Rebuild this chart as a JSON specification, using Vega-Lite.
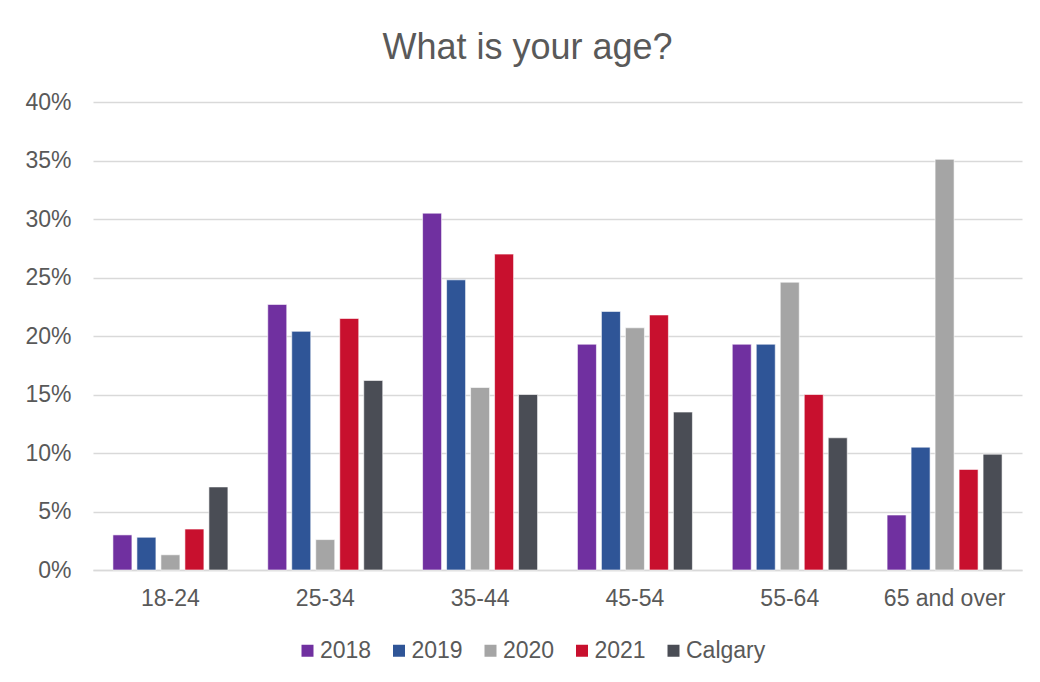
{
  "$schema": "https://vega.github.io/schema/vega-lite/v6.json",
  "width": 929,
  "height": 468,
  "autosize": {"type": "none"},
  "padding": {"left": 93, "top": 102, "right": 18, "bottom": 112},
  "background": "white",
  "title": {
    "text": "What is your age?",
    "font": "Liberation Sans",
    "fontSize": 36,
    "fontWeight": "normal",
    "color": "#595959",
    "anchor": "middle",
    "frame": "group",
    "dx": -30,
    "offset": 24
  },
  "data": {
    "values": [
      {"age": "18-24", "series": "2018", "share": 0.030},
      {"age": "18-24", "series": "2019", "share": 0.028},
      {"age": "18-24", "series": "2020", "share": 0.013},
      {"age": "18-24", "series": "2021", "share": 0.035},
      {"age": "18-24", "series": "Calgary", "share": 0.071},
      {"age": "25-34", "series": "2018", "share": 0.227},
      {"age": "25-34", "series": "2019", "share": 0.204},
      {"age": "25-34", "series": "2020", "share": 0.026},
      {"age": "25-34", "series": "2021", "share": 0.215},
      {"age": "25-34", "series": "Calgary", "share": 0.162},
      {"age": "35-44", "series": "2018", "share": 0.305},
      {"age": "35-44", "series": "2019", "share": 0.248},
      {"age": "35-44", "series": "2020", "share": 0.156},
      {"age": "35-44", "series": "2021", "share": 0.270},
      {"age": "35-44", "series": "Calgary", "share": 0.150},
      {"age": "45-54", "series": "2018", "share": 0.193},
      {"age": "45-54", "series": "2019", "share": 0.221},
      {"age": "45-54", "series": "2020", "share": 0.207},
      {"age": "45-54", "series": "2021", "share": 0.218},
      {"age": "45-54", "series": "Calgary", "share": 0.135},
      {"age": "55-64", "series": "2018", "share": 0.193},
      {"age": "55-64", "series": "2019", "share": 0.193},
      {"age": "55-64", "series": "2020", "share": 0.246},
      {"age": "55-64", "series": "2021", "share": 0.150},
      {"age": "55-64", "series": "Calgary", "share": 0.113},
      {"age": "65 and over", "series": "2018", "share": 0.047},
      {"age": "65 and over", "series": "2019", "share": 0.105},
      {"age": "65 and over", "series": "2020", "share": 0.351},
      {"age": "65 and over", "series": "2021", "share": 0.086},
      {"age": "65 and over", "series": "Calgary", "share": 0.099}
    ]
  },
  "mark": {"type": "bar", "stroke": "white", "strokeWidth": 0.6},
  "encoding": {
    "x": {
      "field": "age",
      "type": "nominal",
      "sort": null,
      "scale": {"paddingInner": 0, "paddingOuter": 0},
      "axis": {
        "title": null,
        "labelAngle": 0,
        "labelFont": "Liberation Sans",
        "labelFontSize": 23,
        "labelColor": "#595959",
        "labelPadding": 17,
        "ticks": false,
        "domain": true,
        "domainColor": "#d9d9d9",
        "domainWidth": 1.3
      }
    },
    "xOffset": {
      "field": "series",
      "type": "nominal",
      "sort": ["2018", "2019", "2020", "2021", "Calgary"],
      "scale": {"paddingInner": 0.208, "paddingOuter": 0.83}
    },
    "y": {
      "field": "share",
      "type": "quantitative",
      "scale": {"domain": [0, 0.4], "nice": false},
      "axis": {
        "title": null,
        "format": ".0%",
        "values": [0, 0.05, 0.1, 0.15, 0.2, 0.25, 0.3, 0.35, 0.4],
        "labelFont": "Liberation Sans",
        "labelFontSize": 23,
        "labelColor": "#595959",
        "labelPadding": 22,
        "ticks": false,
        "domain": false,
        "grid": true,
        "gridColor": "#d9d9d9",
        "gridWidth": 1.3
      }
    },
    "color": {
      "field": "series",
      "type": "nominal",
      "sort": ["2018", "2019", "2020", "2021", "Calgary"],
      "scale": {
        "domain": ["2018", "2019", "2020", "2021", "Calgary"],
        "range": ["#7030A0", "#2F5597", "#A5A5A5", "#C8102E", "#4A4D55"]
      },
      "legend": {
        "title": null,
        "orient": "none",
        "direction": "horizontal",
        "legendX": 203,
        "legendY": 537,
        "symbolType": "square",
        "symbolSize": 144,
        "symbolStrokeWidth": 0,
        "labelFont": "Liberation Sans",
        "labelFontSize": 23,
        "labelColor": "#595959",
        "labelOffset": 1,
        "columnPadding": 15.5
      }
    }
  },
  "config": {
    "view": {"stroke": null}
  }
}
